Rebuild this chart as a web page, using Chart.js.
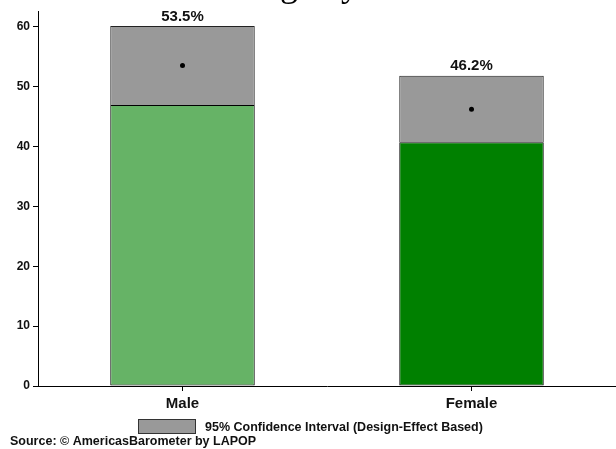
<!DOCTYPE html>
<html>
<head>
<meta charset="utf-8">
<script src="https://cdn.jsdelivr.net/npm/chart.js@4/dist/chart.umd.min.js"></script>
<style>
  html, body { margin: 0; padding: 0; background: #fff; overflow: hidden; }
  #wrap { position: relative; width: 616px; height: 449px; }
  canvas { display: block; }
</style>
</head>
<body>
<div id="wrap"><canvas id="c" width="616" height="449"></canvas></div>
<script>
// Share of respondents by gender, with 95% confidence intervals
const categories = ['Male', 'Female'];
const means = [53.5, 46.2];
const ciLower = [46.9, 40.7];
const ciUpper = [60.1, 51.8];
const yTicks = [0, 10, 20, 30, 40, 50, 60];
const yMax = 62.6;

const barColors = ['#66b366', '#008000'];
const ciColor = '#999999';
const inkColor = '#111111';

const titleText = 'Percentage by Gender';
const legendText = '95% Confidence Interval (Design-Effect Based)';
const sourceText = 'Source: \u00a9 AmericasBarometer by LAPOP';

const sansFont = '"Liberation Sans", Arial, sans-serif';
const serifFont = '"Liberation Serif", "Times New Roman", serif';

// Extra drawing: title, value labels, legend box and source line
const decorations = {
  id: 'decorations',
  afterDraw(chart) {
    const ctx = chart.ctx;
    const xs = chart.scales.x;
    const ys = chart.scales.y;
    ctx.save();

    // title (mostly above the canvas edge)
    ctx.fillStyle = '#000';
    ctx.font = '36px ' + serifFont;
    ctx.textAlign = 'center';
    ctx.textBaseline = 'alphabetic';
    ctx.fillText(titleText, 315, -4);

    // value labels above each interval
    ctx.fillStyle = inkColor;
    ctx.font = 'bold 15px ' + sansFont;
    ctx.textAlign = 'center';
    ctx.textBaseline = 'bottom';
    categories.forEach((c, i) => {
      const x = xs.getPixelForValue(i);
      const y = ys.getPixelForValue(ciUpper[i]) - 2;
      ctx.fillText(means[i].toFixed(1) + '%', x, y);
    });

    // legend
    ctx.fillStyle = ciColor;
    ctx.fillRect(138, 419, 58, 15);
    ctx.strokeStyle = '#333';
    ctx.lineWidth = 1;
    ctx.strokeRect(138.5, 419.5, 57, 14);
    ctx.fillStyle = inkColor;
    ctx.font = 'bold 12.5px ' + sansFont;
    ctx.textAlign = 'left';
    ctx.textBaseline = 'middle';
    ctx.fillText(legendText, 205, 428);

    // source
    ctx.fillText(sourceText, 10, 442);

    ctx.restore();
  }
};

new Chart(document.getElementById('c'), {
  type: 'bar',
  data: {
    labels: categories,
    datasets: [
      {
        type: 'line',
        label: 'Mean',
        data: means,
        showLine: false,
        pointRadius: 2.5,
        pointBackgroundColor: '#000',
        pointBorderColor: '#000',
        pointBorderWidth: 0,
        order: 0
      },
      {
        label: 'Lower bound',
        data: ciLower,
        backgroundColor: barColors,
        borderColor: '#000',
        borderWidth: 1,
        borderSkipped: false,
        grouped: false,
        barPercentage: 0.5,
        categoryPercentage: 1,
        order: 1
      },
      {
        label: legendText,
        data: categories.map((c, i) => [ciLower[i], ciUpper[i]]),
        backgroundColor: ciColor,
        borderColor: '#222',
        borderWidth: 1,
        borderSkipped: 'start',
        grouped: false,
        barPercentage: 0.5,
        categoryPercentage: 1,
        order: 2
      }
    ]
  },
  options: {
    responsive: false,
    animation: false,
    devicePixelRatio: 1,
    layout: { autoPadding: false, padding: { top: 11, left: 0, right: 0, bottom: 0 } },
    plugins: {
      legend: { display: false },
      tooltip: { enabled: false }
    },
    scales: {
      x: {
        offset: true,
        grid: {
          display: true,
          drawOnChartArea: false,
          drawTicks: true,
          tickLength: 5,
          color: '#000',
          offset: false
        },
        border: { display: true, color: '#000', width: 1 },
        ticks: {
          color: inkColor,
          font: { family: sansFont, weight: 'bold', size: 15 },
          padding: 4,
          maxRotation: 0
        },
        afterFit(scale) {
          scale.height = 63;
          scale.paddingLeft = 0;
          scale.paddingRight = 0;
        }
      },
      y: {
        min: 0,
        max: yMax,
        afterBuildTicks(scale) { scale.ticks = yTicks.map(v => ({ value: v })); },
        grid: {
          display: true,
          drawOnChartArea: false,
          drawTicks: true,
          tickLength: 5,
          color: '#000'
        },
        border: { display: true, color: '#000', width: 1 },
        ticks: {
          color: inkColor,
          font: { family: sansFont, weight: 'bold', size: 12 },
          padding: 3
        },
        afterFit(scale) {
          scale.width = 38;
          scale.paddingTop = 0;
          scale.paddingBottom = 0;
        }
      }
    }
  },
  plugins: [decorations]
});
</script>
</body>
</html>
